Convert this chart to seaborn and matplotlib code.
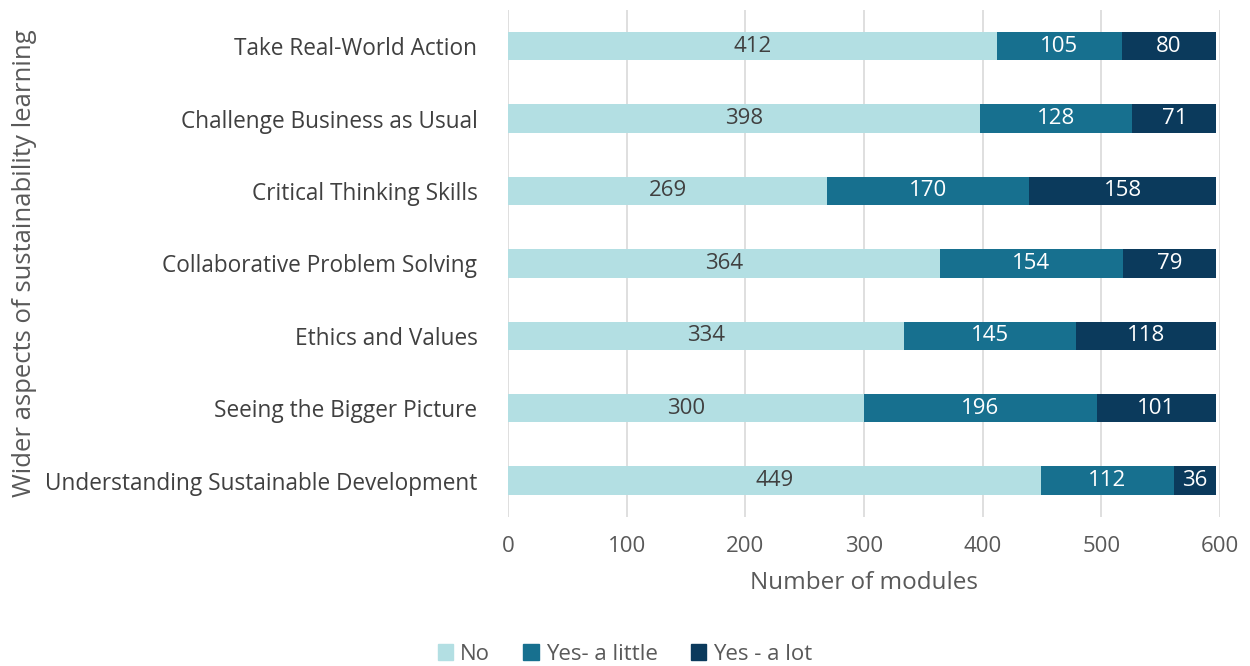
import numpy as np
import pandas as pd
import matplotlib
matplotlib.use("Agg")
import matplotlib.pyplot as plt
import seaborn as sns

categories = [
    "Take Real-World Action",
    "Challenge Business as Usual",
    "Critical Thinking Skills",
    "Collaborative Problem Solving",
    "Ethics and Values",
    "Seeing the Bigger Picture",
    "Understanding Sustainable Development",
]
no_vals = [412, 398, 269, 364, 334, 300, 449]
little_vals = [105, 128, 170, 154, 145, 196, 112]
lot_vals = [80, 71, 158, 79, 118, 101, 36]
series_names = ["No", "Yes- a little", "Yes - a lot"]
colors = ["#B3DFE3", "#17708F", "#0B3A5C"]
label_colors = ["#404040", "white", "white"]

sns.set_theme(style="white")
plt.rcParams["font.family"] = ["Open Sans", "DejaVu Sans"]

df = pd.DataFrame({"cat": categories, "No": no_vals,
                   "Yes- a little": little_vals, "Yes - a lot": lot_vals})
cum = df[series_names].cumsum(axis=1)

fig = plt.figure(figsize=(12.5, 6.66), dpi=100)
ax = fig.add_axes([0.4064, 0.224, 0.5696, 0.761])

# draw cumulative bars from the longest back to the shortest
for name, col in reversed(list(zip(series_names, colors))):
    sns.barplot(x=cum[name], y=df["cat"], orient="h", color=col,
                width=0.39, ax=ax, saturation=1, linewidth=0, zorder=2)

for i in range(len(categories)):
    left = 0
    for name, lc in zip(series_names, label_colors):
        v = df[name].iloc[i]
        ax.text(left + v / 2, i, str(v), ha="center", va="center",
                color=lc, fontsize=16, zorder=3)
        left += v

ax.set_xlim(0, 600)
ax.set_ylim(6.5, -0.5)
ax.set_xticks(range(0, 601, 100))
ax.grid(axis="x", color="#D9D9D9", linewidth=1.2, zorder=0)
ax.set_axisbelow(True)
for s in ax.spines.values():
    s.set_visible(False)
ax.tick_params(axis="x", colors="#595959", labelsize=16, pad=14, length=0)
ax.tick_params(axis="y", colors="#404040", labelsize=16.3, pad=22, length=0)
ax.set_xlabel("Number of modules", fontsize=17.5, color="#595959", labelpad=10)
ax.set_ylabel("Wider aspects of sustainability learning", fontsize=18.5,
              color="#595959")
ax.yaxis.set_label_coords(-0.662, 0.5)

handles = [plt.Rectangle((0, 0), 1, 1, color=c) for c in colors]
leg = fig.legend(handles, series_names, loc="center",
                 bbox_to_anchor=(0.5, 0.018), ncol=3, frameon=False,
                 fontsize=16, handlelength=0.7, handleheight=0.7,
                 handletextpad=0.3, columnspacing=1.5)
for t in leg.get_texts():
    t.set_color("#595959")

fig.savefig("out.png", dpi=100)
